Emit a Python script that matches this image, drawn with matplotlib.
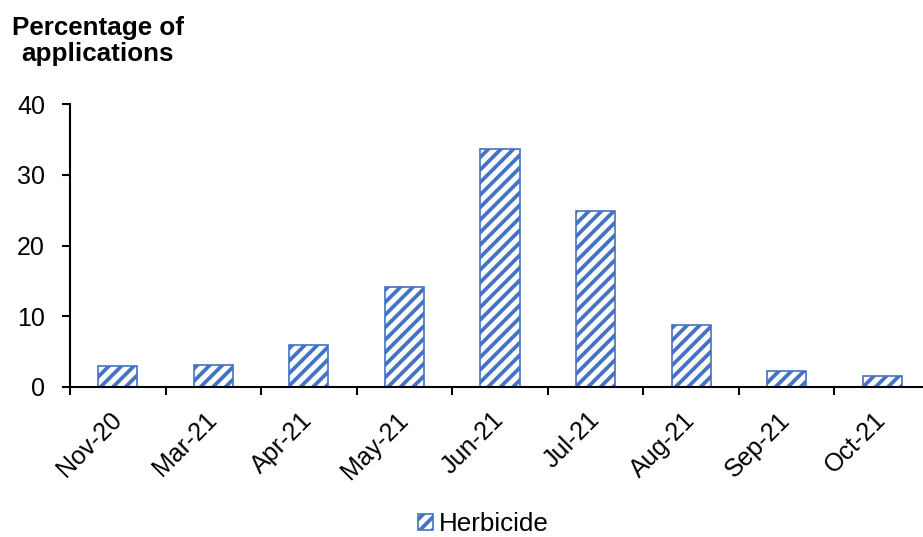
import matplotlib.pyplot as plt
import numpy as np

plt.rcParams['font.family'] = ['Liberation Sans', 'DejaVu Sans']
plt.rcParams['hatch.linewidth'] = 1.8

months = ['Nov-20', 'Mar-21', 'Apr-21', 'May-21', 'Jun-21', 'Jul-21', 'Aug-21', 'Sep-21', 'Oct-21']
herbicide = [3.0, 3.1, 5.9, 14.1, 33.6, 24.9, 8.8, 2.3, 1.5]

blue = '#4472C4'

fig = plt.figure(figsize=(923 / 150, 537 / 150), dpi=150)
ax = fig.add_axes([70 / 923, 150 / 537, 860 / 923, 283 / 537])

x = np.arange(len(months))
ax.bar(x, herbicide, width=0.41, color='white', edgecolor=blue, hatch='////',
       linewidth=0.8, label='Herbicide')

ax.set_xlim(-0.5, len(months) - 0.5)
ax.set_ylim(0, 40)
ax.set_yticks([0, 10, 20, 30, 40])
ax.set_xticks(x)
ax.set_xticklabels(months, rotation=45, ha='right', va='center', rotation_mode='anchor')
ax.set_xticks(np.arange(len(months) + 1) - 0.5, minor=True)
ax.tick_params(axis='x', which='major', length=0, pad=14, labelsize=12)
ax.tick_params(axis='x', which='minor', length=4, width=1)
ax.tick_params(axis='y', length=4, width=1, labelsize=12, pad=8)

for side in ['top', 'right']:
    ax.spines[side].set_visible(False)
ax.spines['left'].set_linewidth(1)
ax.spines['bottom'].set_linewidth(1)

# y-axis title sits above the axis, not rotated
fig.text(98 / 923, 1 - 41 / 537, 'Percentage of\napplications', ha='center', va='center',
         fontsize=12.5, fontweight='bold', linespacing=1.15)

fig.legend(loc='center', bbox_to_anchor=(483 / 923, 1 - 524 / 537), frameon=False,
           fontsize=12.5, handlelength=0.6, handleheight=0.6, handletextpad=0.2)

fig.savefig('out.png', dpi=150)
